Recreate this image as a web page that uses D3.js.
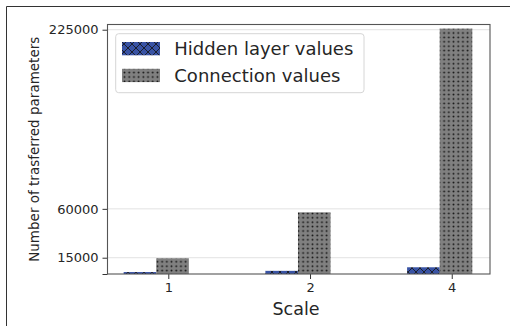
<!DOCTYPE html>
<html>
<head>
<meta charset="utf-8">
<script src="https://cdn.jsdelivr.net/npm/d3@7"></script>
<style>
  html, body { margin: 0; padding: 0; background: #fff; }
  svg { display: block; font-family: "DejaVu Sans", sans-serif; }
</style>
</head>
<body>
<svg id="chart" width="510" height="326"></svg>
<script>
// ---- data ----
const categories = ["1", "2", "4"];
const hiddenValues = [1800, 2900, 6200];
const connectionValues = [14500, 56800, 226000];
const seriesNames = ["Hidden layer values", "Connection values"];
const yTickValues = [0, 15000, 60000, 225000];
const yTickLabels = ["", "15000", "60000", "225000"];
const xLabel = "Scale";
const yLabel = "Number of trasferred parameters";

(function () {
// ---- layout ----
const svg = d3.select("#chart");
const mLeft = 107.5, mRight = 490, mTop = 24.5, mBottom = 274;
const textColor = "#262626";

const defs = svg.append("defs");
const hatchX = defs.append("pattern").attr("id", "hatchX")
  .attr("patternUnits", "userSpaceOnUse").attr("width", 8).attr("height", 8);
hatchX.append("rect").attr("width", 8).attr("height", 8).attr("fill", "#3953a4");
hatchX.append("path").attr("d", "M0,0L8,8M8,0L0,8M-1,7L1,9M7,-1L9,1")
  .attr("stroke", "#111").attr("stroke-width", 0.8);

const dots = defs.append("pattern").attr("id", "dots")
  .attr("patternUnits", "userSpaceOnUse").attr("width", 4.7).attr("height", 4.4);
dots.append("rect").attr("width", 4.7).attr("height", 4.4).attr("fill", "#808080");
dots.append("circle").attr("cx", 2.35).attr("cy", 2.2).attr("r", 0.95).attr("fill", "#111");

const fills = ["url(#hatchX)", "url(#dots)"];

// figure frame
svg.append("path").attr("d", `M6.5,326V6.5H510`).attr("fill", "none")
  .attr("stroke", "#333").attr("stroke-width", 1);

const x = d3.scaleLinear().domain([-0.429, 2.27]).range([mLeft, mRight]);
const y = d3.scaleLinear().domain([0, 229800]).range([mBottom, mTop]);
const step = x(1) - x(0);
const barW = 0.23;
const offsets = [-0.2, 0.03];

// grid
svg.append("g").selectAll("line").data(yTickValues.filter(d => d > 0)).join("line")
  .attr("x1", mLeft).attr("x2", mRight)
  .attr("y1", d => y(d)).attr("y2", d => y(d))
  .attr("stroke", "#e3e3e3").attr("stroke-width", 1);

// bars
const series = [hiddenValues, connectionValues];
series.forEach((vals, si) => {
  svg.append("g").selectAll("rect").data(vals).join("rect")
    .attr("x", (d, i) => x(i + offsets[si] - barW / 2))
    .attr("width", barW * step)
    .attr("y", d => y(d))
    .attr("height", d => y(0) - y(d))
    .attr("fill", fills[si]);
});

// axes
const yAxis = d3.axisLeft(y).tickValues(yTickValues)
  .tickFormat((d, i) => yTickLabels[i]).tickSize(5).tickPadding(4);
const gy = svg.append("g").attr("transform", `translate(${mLeft},0)`).call(yAxis);
const xAxis = d3.axisBottom(x).tickValues(categories.map((c, i) => i))
  .tickFormat((d, i) => categories[i]).tickSize(5).tickPadding(4);
const gx = svg.append("g").attr("transform", `translate(0,${mBottom})`).call(xAxis);
[gx, gy].forEach(g => {
  g.select(".domain").remove();
  g.selectAll(".tick line").attr("stroke", "#333");
  g.selectAll(".tick text").attr("fill", textColor)
    .style("font-family", "DejaVu Sans").style("font-size", "13px");
});

// spines
svg.append("rect").attr("x", mLeft).attr("y", mTop)
  .attr("width", mRight - mLeft).attr("height", mBottom - mTop)
  .attr("fill", "none").attr("stroke", "#555").attr("stroke-width", 1.1);

// axis labels
svg.append("text").attr("x", 296).attr("y", 314.5)
  .attr("text-anchor", "middle").attr("fill", textColor)
  .style("font-size", "17.5px").text(xLabel);
svg.append("text")
  .attr("transform", `translate(38.5,${(mTop + mBottom) / 2}) rotate(-90)`)
  .attr("text-anchor", "middle").attr("fill", textColor)
  .style("font-size", "13.5px").text(yLabel);

// legend
const lg = svg.append("g");
lg.append("rect").attr("x", 115.7).attr("y", 33.7).attr("width", 248.3).attr("height", 59)
  .attr("rx", 3).attr("fill", "#fff").attr("fill-opacity", 0.85)
  .attr("stroke", "#d6d6d6").attr("stroke-width", 1);
seriesNames.forEach((name, i) => {
  const yy = 42 + i * 26.8;
  lg.append("rect").attr("x", 122).attr("y", yy).attr("width", 38).attr("height", 13.3)
    .attr("fill", fills[i]);
  lg.append("text").attr("x", 174.3).attr("y", yy + 13.2)
    .attr("fill", textColor).style("font-size", "18px").text(name);
});
})();
</script>
</body>
</html>
